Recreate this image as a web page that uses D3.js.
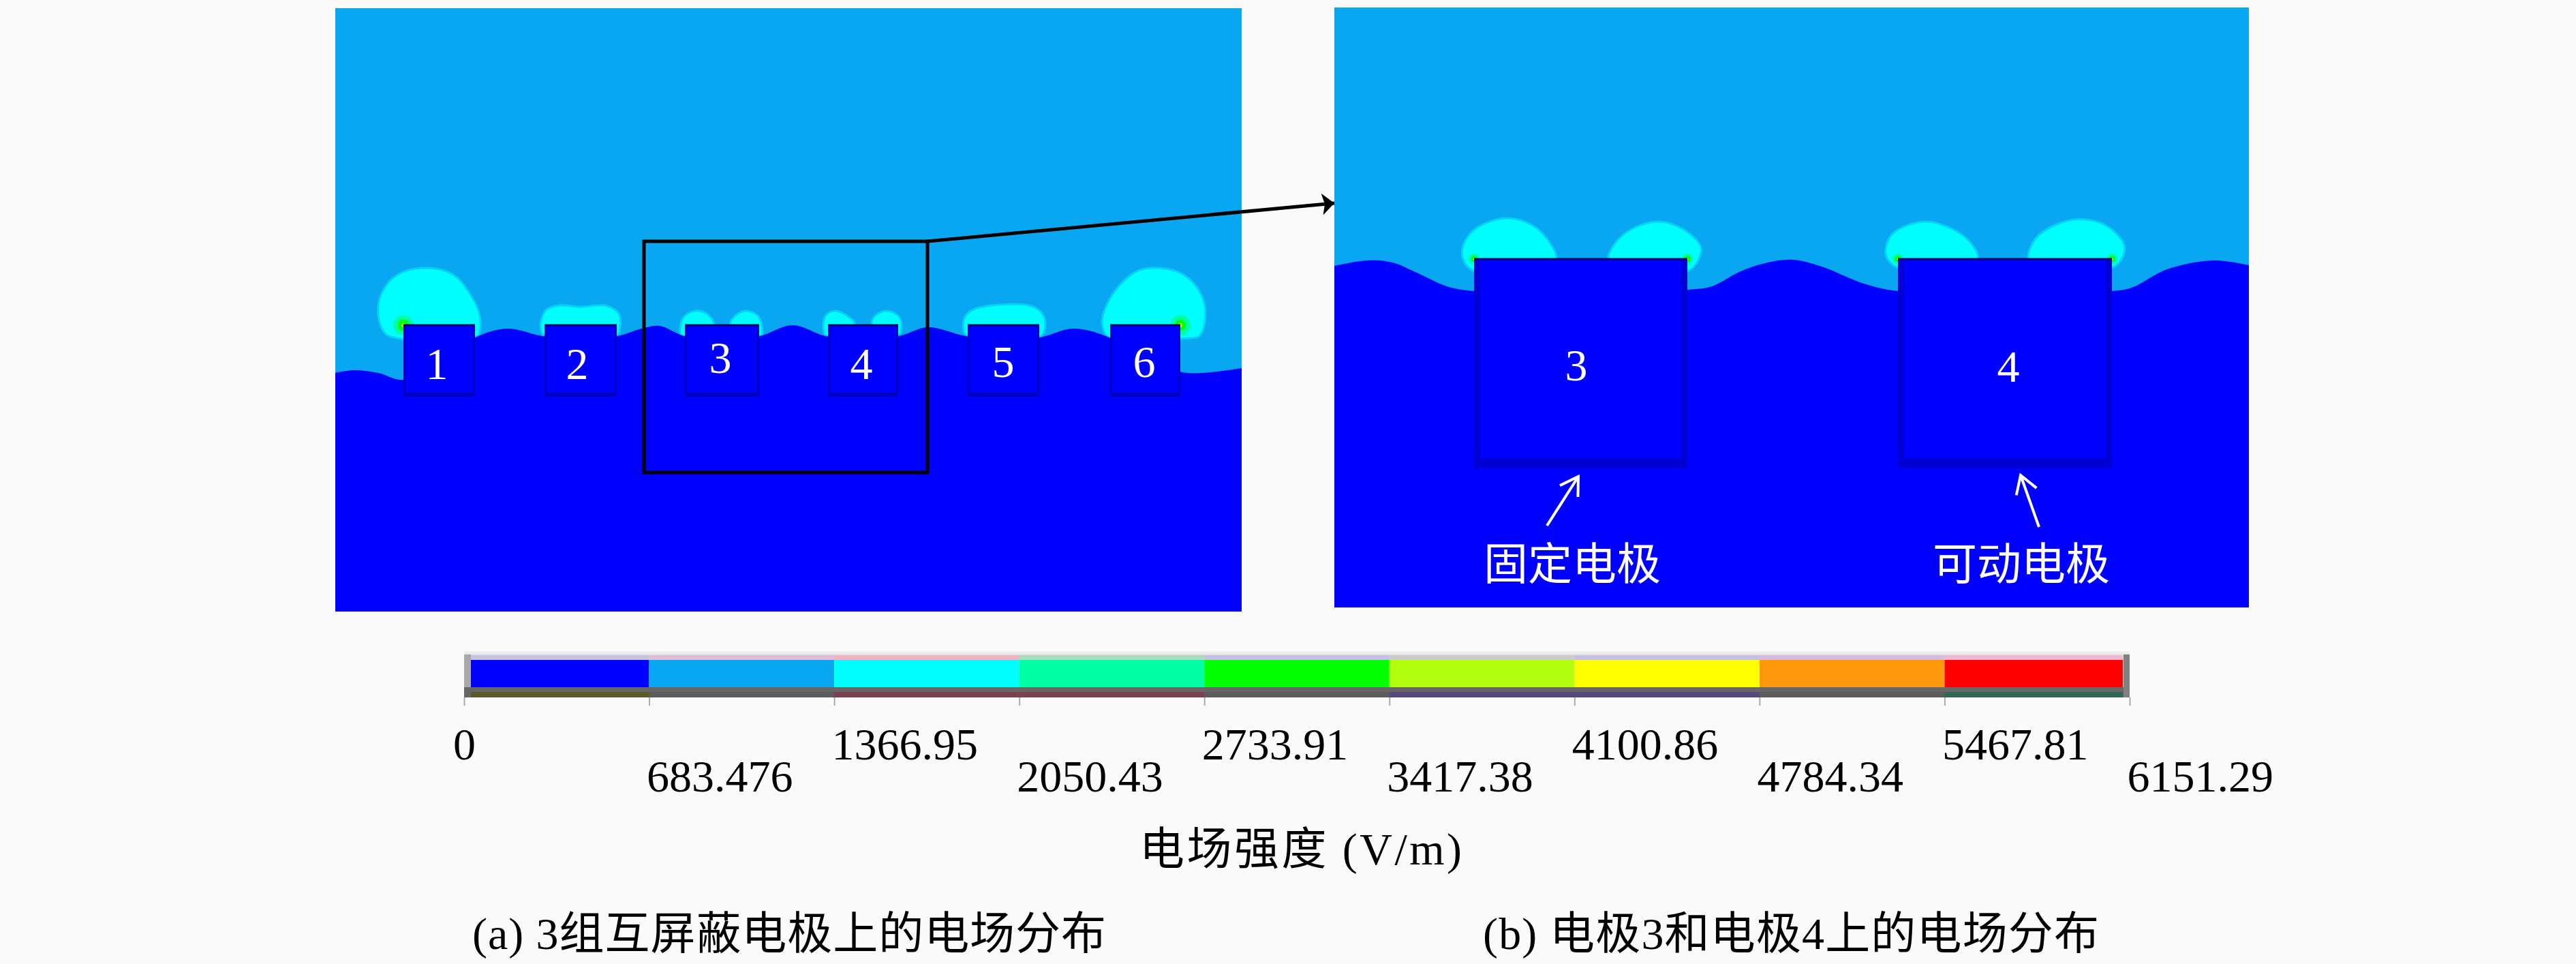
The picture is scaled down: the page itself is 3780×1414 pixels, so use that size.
<!DOCTYPE html>
<meta charset="utf-8">
<script src="https://d3js.org/d3.v7.min.js"></script>
<style>
  html, body { margin: 0; background: #fafafa; }
  text { font-family: "Liberation Serif", "Noto Sans CJK SC", serif; }
</style>
<body>
<div id="chart"></div>
<script>

// colour bar
var barValues = [0, 683.476, 1366.95, 2050.43, 2733.91, 3417.38, 4100.86, 4784.34, 5467.81, 6151.29];
var barColors = ["#0000ff", "#09a6f1", "#00ffff", "#00ffa5", "#00ff00", "#b2ff10", "#ffff00", "#ff980a", "#ff0000"];
// the bar's bevel is tinted differently under every colour
var barTopTints = ["#c6c2e0", "#e0bcd8", "#f5b0c4", "#aadcc0", "#c6c0e8", "#cccccc", "#c4bee8", "#d8bce0", "#f0b8d0"];
var barLowTints = ["#5a5a28", "#5c5c5c", "#7c4050", "#7c4050", "#5c5c5c", "#54487c", "#54487c", "#5c5c5c", "#306858"];

// panel (a): field boundary, electrodes, field lobes. units are 1/10 px of the original plot
var boundaryA = [[0,35],[2.8,35.4],[6.3,35],[10,34],[14.8,36.7],[20.5,40.2],[25.2,41.5],[30.4,40.4],[35.8,40.2],[41.3,40.4],[45.3,41.6],[47.6,41.9],[51.3,40.4],[56.8,40.2],[62.2,40.4],[67.1,42],[72,40.4],[77.3,40.2],[82.6,40.4],[87,41.7],[92.6,40.4],[98,40.2],[103.3,40.2],[108.3,41.5],[113.6,40.2],[119.8,36.7],[125,35],[133,35.7]];
var electrodesA = [[10,20.5],[30.7,41.3],[51.3,62.2],[72.3,82.6],[92.8,103.3],[113.7,124]];
var labelsA = [["1",14.9,34.1],["2",35.5,34.1],["3",56.5,35],["4",77.2,34.1],["5",98,34.4],["6",118.7,34.4]];
var lobesA = [
  [[10,39.9],[7.4,40.7],[6.3,43.4],[6.8,46.7],[9.1,49.4],[13.1,50.4],[17.2,49.5],[19.5,47],[21.2,43.4],[20.9,40.4],[15.8,38.7]],
  [[30.1,42],[30.9,44.2],[32.7,44.9],[36.1,44.7],[39.6,44.9],[41.6,43.7],[41.8,41.7],[41.3,40.4],[35.8,39.2],[30.6,40.4]],
  [[50.8,40.4],[50.75,42.4],[51.3,43.4],[52.8,44.1],[54.5,43.7],[55.6,42.2],[55.3,40.7]],
  [[57.9,42.2],[58.8,43.5],[60.2,44.1],[61.9,43.5],[62.6,42],[62.5,40.4],[58.3,40.7]],
  [[71.6,42],[72,43.5],[73.4,44.1],[75.1,43.4],[76.3,42.2],[75.8,40.7],[72,40.4]],
  [[78.7,42.2],[79.2,43.4],[80.9,44.1],[82.6,43.4],[83.1,42],[82.6,40.4],[79.3,40.7]],
  [[92.2,42.7],[93.1,44],[95.5,44.8],[101.8,44.9],[103.6,43.9],[104.2,42.4],[103.6,40.4],[97.8,39.2],[92.6,40.4]],
  [[113.4,40.2],[112.5,42.4],[113.2,45],[115.2,48],[117.8,50],[121,50.4],[124.5,49.4],[126.8,47],[127.7,43.7],[126.8,40.4],[124.3,40],[118.8,38.7]]
];
var hotA = [[10,42],[124,42]];
var zoomBox = [45.3,86.9,20.4,54.3];

// panel (b): same thing for the enlarged part
var boundaryB = [[0,50.1],[4.9,50.9],[8.5,50.6],[12.1,49.1],[16.5,47.1],[20.5,46.4],[36.2,46.1],[51.8,46.6],[55.4,47.1],[59.4,49.2],[63.2,50.5],[67.3,51],[71.5,50],[77.7,47.5],[82.7,46.4],[98.2,46.1],[114.1,46.4],[117,46.9],[122.2,49.6],[129,50.9],[134.2,50.2]];
var electrodesB = [[20.5,51.8],[82.7,114.1]];
var labelsB = [["3",35.5,33.3],["4",98.9,33.1]];
var lobesB = [
  [[20.5,49.3],[19,50.8],[18.8,52.8],[20.5,55.4],[25,57.1],[29,56.1],[31.7,53.4],[32.6,51.1],[31.2,49.1]],
  [[40.2,51.1],[41.5,53.8],[44.2,55.8],[47.8,56.6],[51.3,55.4],[53.8,52.8],[53.1,50.4],[51.8,49.3],[42.2,49.1]],
  [[82.7,49.8],[80.9,51.8],[81.9,54.8],[86.6,56.6],[91.3,55.2],[93.9,52.8],[94.5,51],[93.2,49.1]],
  [[101.8,51],[102.8,54],[106,56.2],[109.6,56.95],[113.3,56],[115.9,53.2],[115.6,51.2],[114.1,49.8],[103.2,49.1]]
];
var hotB = [[20.5,51.1],[51.8,51.1],[82.7,51.1],[114.1,51.1]];
var callouts = [["固定电极",34.9,4.1,31.2,12,35.8,19.2],["可动电极",100.8,4.1,103.4,11.8,100.7,19.4]];

var axisTitle = "电场强度 (V/m)";
var captionA = "(a) 3组互屏蔽电极上的电场分布";
var captionB = "(b) 电极3和电极4上的电场分布";

var svg = d3.select("#chart")
  .append("svg")
    .attr("width", 3780)
    .attr("height", 1414)
    .style("display", "block");

var defs = svg.append("defs");
defs.append("marker")
    .attr("id", "head")
    .attr("markerUnits", "userSpaceOnUse")
    .attr("markerWidth", 20).attr("markerHeight", 32)
    .attr("refX", 18).attr("refY", 16)
    .attr("orient", "auto")
  .append("path")
    .attr("d", "M0,0L18,16L0,32L4,16Z")
    .attr("fill", "#000");

function drawPanel(p) {
  var x = d3.scaleLinear().domain(p.xd).range(p.xr);
  var y = d3.scaleLinear().domain(p.yd).range(p.yr);
  var g = svg.append("g");
  var line = d3.line().x(function(d) { return x(d[0]); }).y(function(d) { return y(d[1]); });

  // sky
  g.append("rect")
    .attr("x", x(p.xd[0])).attr("y", y(p.yd[1]))
    .attr("width", x(p.xd[1]) - x(p.xd[0])).attr("height", y(p.yd[0]) - y(p.yd[1]))
    .attr("fill", barColors[1]);

  // lobes around the electrode tops
  g.selectAll(".lobe").data(p.lobes).enter().append("path")
    .attr("class", "lobe")
    .attr("d", line.curve(d3.curveCatmullRomClosed.alpha(0.5)))
    .attr("fill", barColors[2])
    .attr("stroke", "#06d0f6")
    .attr("stroke-width", 3);

  // corner hot spots, drawn from wide to narrow
  p.hot.forEach(function(h) {
    [[p.hr, barColors[3]], [p.hr * 0.55, barColors[4]], [p.hr * 0.2, barColors[5]]].forEach(function(c) {
      g.append("circle").attr("cx", x(h[0])).attr("cy", y(h[1])).attr("r", c[0]).attr("fill", c[1]);
    });
  });

  // low field region under the boundary
  var area = d3.area()
    .x(function(d) { return x(d[0]); })
    .y0(y(p.yd[0]))
    .y1(function(d) { return y(d[1]); })
    .curve(d3.curveCatmullRom.alpha(0.5));
  g.append("path").attr("d", area(p.boundary)).attr("fill", barColors[0]);

  // electrodes: dark outline, then inner blue
  var e = g.selectAll(".electrode").data(p.electrodes).enter().append("g").attr("class", "electrode");
  e.append("rect")
    .attr("x", function(d) { return x(d[0]); })
    .attr("y", y(p.top))
    .attr("width", function(d) { return x(d[1]) - x(d[0]); })
    .attr("height", y(p.bottom) - y(p.top))
    .attr("fill", p.edge);
  e.append("rect")
    .attr("x", function(d) { return x(d[0]) + p.side; })
    .attr("y", y(p.top))
    .attr("width", function(d) { return x(d[1]) - x(d[0]) - 2 * p.side; })
    .attr("height", y(p.bottom) - y(p.top) - p.foot)
    .attr("fill", barColors[0]);
  e.append("line")
    .attr("x1", function(d) { return x(d[0]); })
    .attr("x2", function(d) { return x(d[1]); })
    .attr("y1", y(p.top)).attr("y2", y(p.top))
    .attr("stroke", "#00006a").attr("stroke-width", 3);

  g.selectAll(".num").data(p.labels).enter().append("text")
    .attr("class", "num")
    .attr("x", function(d) { return x(d[1]); })
    .attr("y", function(d) { return y(d[2]); })
    .attr("text-anchor", "middle")
    .attr("font-size", 66)
    .attr("fill", "#fff")
    .text(function(d) { return d[0]; });

  return {x: x, y: y, g: g};
}

var a = drawPanel({
  xd: [0,133], xr: [492,1822], yd: [0,88.5], yr: [897,12],
  boundary: boundaryA, lobes: lobesA, electrodes: electrodesA, labels: labelsA,
  hot: hotA, hr: 15, top: 42, bottom: 31.5, side: 3, foot: 6, edge: "#0000c0"
});
var b = drawPanel({
  xd: [0,134.2], xr: [1958,3300], yd: [0,88], yr: [891,11],
  boundary: boundaryB, lobes: lobesB, electrodes: electrodesB, labels: labelsB,
  hot: hotB, hr: 8, top: 51.1, bottom: 20.4, side: 9, foot: 15, edge: "#0000d4"
});

// white callouts in panel b
var c = b.g.selectAll(".callout").data(callouts).enter().append("g").attr("class", "callout");
c.append("text")
  .attr("x", function(d) { return b.x(d[1]); })
  .attr("y", function(d) { return b.y(d[2]); })
  .attr("text-anchor", "middle")
  .attr("font-size", 65)
  .attr("fill", "#fff")
  .text(function(d) { return d[0]; });
c.append("path")
  .attr("d", function(d) {
    var x1 = b.x(d[3]), y1 = b.y(d[4]), x2 = b.x(d[5]), y2 = b.y(d[6]);
    var t = Math.atan2(y2 - y1, x2 - x1), n = 30;
    return "M" + x1 + "," + y1 + "L" + x2 + "," + y2 +
      "M" + (x2 - n * Math.cos(t - 0.55)) + "," + (y2 - n * Math.sin(t - 0.55)) + "L" + x2 + "," + y2 +
      "L" + (x2 - n * Math.cos(t + 0.55)) + "," + (y2 - n * Math.sin(t + 0.55));
  })
  .attr("fill", "none")
  .attr("stroke", "#fff")
  .attr("stroke-width", 4);

// zoom box and arrow
svg.append("rect")
  .attr("x", a.x(zoomBox[0])).attr("y", a.y(zoomBox[3]))
  .attr("width", a.x(zoomBox[1]) - a.x(zoomBox[0]))
  .attr("height", a.y(zoomBox[2]) - a.y(zoomBox[3]))
  .attr("fill", "none").attr("stroke", "#000").attr("stroke-width", 5);
svg.append("line")
  .attr("x1", a.x(zoomBox[1])).attr("y1", a.y(zoomBox[3]))
  .attr("x2", b.x(0)).attr("y2", b.y(59.3))
  .attr("stroke", "#000").attr("stroke-width", 5)
  .attr("marker-end", "url(#head)");

// colour bar
var barX = d3.scaleLinear().domain([0, 6151.29]).range([681, 3125]);
var bar = svg.append("g");
var segs = barColors.map(function(col, i) {
  return {col: col, top: barTopTints[i], low: barLowTints[i], v0: barValues[i], v1: barValues[i + 1]};
});
var last = segs.length - 1;
function segX(d, i) { return i == 0 ? barX(d.v0) + 10 : barX(d.v0); }
function segW(d, i) {
  var w = barX(d.v1) - barX(d.v0);
  return (i == 0 || i == last) ? w - 10 : w;
}

var fade = defs.append("linearGradient").attr("id", "fade").attr("x1", 0).attr("x2", 0).attr("y1", 0).attr("y2", 1);
fade.append("stop").attr("offset", 0).attr("stop-color", "#f4f4f4");
fade.append("stop").attr("offset", 1).attr("stop-color", "#cacaca");

bar.append("rect").attr("x", barX(0)).attr("y", 955).attr("width", barX(6151.29) - barX(0)).attr("height", 13).attr("fill", "url(#fade)");
bar.selectAll(".top").data(segs).enter().append("rect")
  .attr("class", "top")
  .attr("x", segX).attr("y", 961).attr("width", segW).attr("height", 7)
  .attr("fill", function(d) { return d.top; });
bar.selectAll(".seg").data(segs).enter().append("rect")
  .attr("class", "seg")
  .attr("x", segX).attr("y", 968).attr("width", segW).attr("height", 40)
  .attr("fill", function(d) { return d.col; });
bar.append("rect").attr("x", barX(0)).attr("y", 1008).attr("width", barX(6151.29) - barX(0)).attr("height", 15).attr("fill", "#666");
bar.selectAll(".low").data(segs).enter().append("rect")
  .attr("class", "low")
  .attr("x", segX).attr("y", 1015).attr("width", segW).attr("height", 8)
  .attr("fill", function(d) { return d.low; });
// side bevels
bar.append("rect").attr("x", barX(0)).attr("y", 960).attr("width", 10).attr("height", 48).attr("fill", "#a8a8a8");
bar.append("rect").attr("x", barX(6151.29) - 9).attr("y", 960).attr("width", 9).attr("height", 63).attr("fill", "#808080");

var axis = svg.append("g")
  .attr("transform", "translate(0,1023)")
  .call(d3.axisBottom(barX).tickValues(barValues).tickSize(12).tickFormat(function(d) { return String(d); }));
axis.select(".domain").remove();
axis.selectAll(".tick line").attr("stroke", "#aaa").attr("stroke-width", 2);
axis.selectAll(".tick text")
  .attr("font-size", 66)
  .attr("fill", "#000")
  .attr("dy", null)
  .attr("x", function(d, i) { return i == 0 ? 0 : -4; })
  .attr("y", function(d, i) { return i % 2 == 0 ? 91 : 138; })
  .attr("text-anchor", function(d, i) { return i == 0 ? "middle" : "start"; });
axis.attr("font-family", null).attr("font-size", null);

svg.append("text").attr("x", 1672).attr("y", 1268).attr("font-size", 66).attr("textLength", 473).text(axisTitle);
svg.append("text").attr("x", 693).attr("y", 1392).attr("font-size", 66).attr("textLength", 930).text(captionA);
svg.append("text").attr("x", 2176).attr("y", 1392).attr("font-size", 66).attr("textLength", 904).text(captionB);

</script>
</body>
